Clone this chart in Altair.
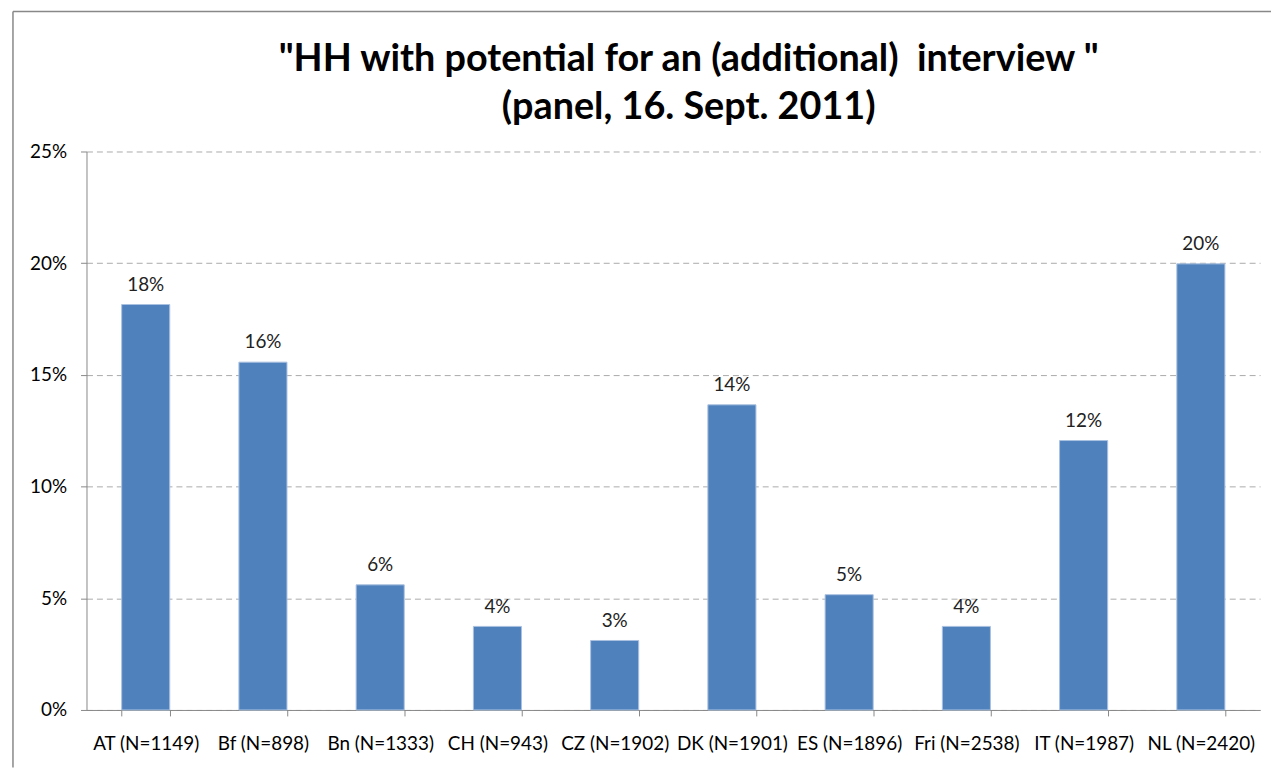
import altair as alt
import pandas as pd

categories = ["AT (N=1149)", "Bf (N=898)", "Bn (N=1333)", "CH (N=943)", "CZ (N=1902)",
              "DK (N=1901)", "ES (N=1896)", "Fri (N=2538)", "IT (N=1987)", "NL (N=2420)"]
values = [0.1815, 0.1557, 0.0560, 0.0374, 0.0311, 0.1366, 0.0516, 0.0374, 0.1206, 0.1997]
y_ticks = [0, 0.05, 0.10, 0.15, 0.20, 0.25]
title_lines = ['"HH with potential for an (additional)\u00a0 interview "', "(panel, 16. Sept. 2011)"]
title_offsets = [-92, -44]

df = pd.DataFrame({"cat": categories, "val": values})
FONT = "Lato"
FS = 19

x = alt.X("cat:N", sort=categories, title=None,
          scale=alt.Scale(paddingInner=0.59, paddingOuter=0.3),
          axis=alt.Axis(labelAngle=0, labelFontSize=FS, labelColor="#000", labelFont=FONT,
                        labelPadding=19, tickBand="extent", tickSize=6, tickColor="#888",
                        domainColor="#888", labelOverlap=False))
y = alt.Y("val:Q", title=None,
          scale=alt.Scale(domain=[0, 0.25], nice=False),
          axis=alt.Axis(values=y_ticks, format=".0%", labelFontSize=FS, labelColor="#000",
                        labelFont=FONT, tickSize=6, tickColor="#888", domainColor="#888",
                        gridDash=[6, 4], gridColor="#aaa", labelPadding=14))

bars = alt.Chart(df).mark_bar(color="#4F81BD", stroke="#A9C1E0", strokeWidth=1).encode(x=x, y=y)
labels = alt.Chart(df).mark_text(dy=-20, fontSize=FS, font=FONT, color="#222").encode(
    x=alt.X("cat:N", sort=categories), y="val:Q", text=alt.Text("val:Q", format=".0%"))

title_df = pd.DataFrame({"t": title_lines, "o": title_offsets})
title = alt.Chart(title_df).mark_text(fontSize=38, font=FONT, fontWeight="bold", color="#000",
                                      align="center", baseline="middle", clip=False).encode(
    x=alt.value(606), y=alt.Y("o:Q", scale=None), text="t:N")

border_df = pd.DataFrame({"b": [1]})
border_left = alt.Chart(border_df).mark_rule(color="#888", strokeWidth=1.5, clip=False).encode(
    x=alt.value(-74), y=alt.value(-141), y2=alt.value(620))
border_top = alt.Chart(border_df).mark_rule(color="#888", strokeWidth=1.5, clip=False).encode(
    x=alt.value(-74), x2=alt.value(1200), y=alt.value(-141))

chart = alt.layer(bars, labels, title, border_left, border_top).properties(
    width=1181, height=562,
    autosize=alt.AutoSizeParams(type="none"),
    padding={"left": 79, "top": 142, "right": 11, "bottom": 56},
).configure_view(stroke=None).configure_axisY(grid=True).configure_axisX(grid=False)

chart.save("out.html", embed_options={"renderer": "svg", "actions": False})
